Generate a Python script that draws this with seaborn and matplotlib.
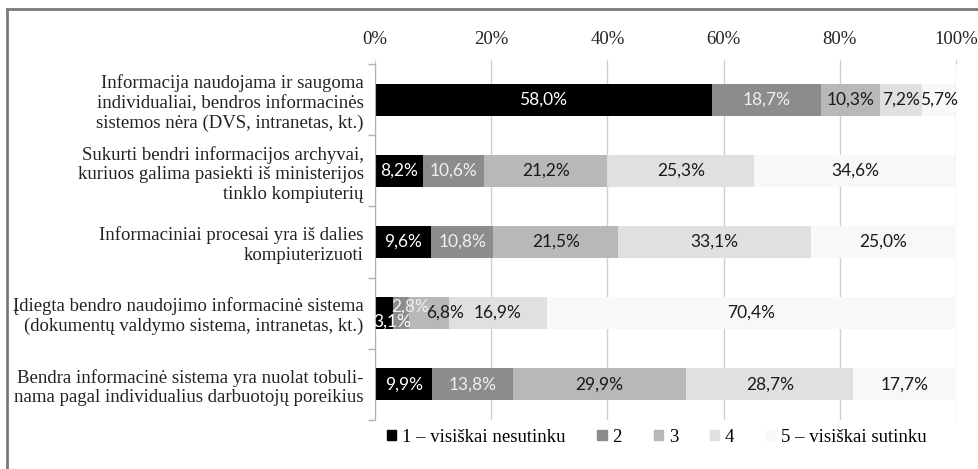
import matplotlib
matplotlib.use("Agg")
import matplotlib.pyplot as plt
from matplotlib.lines import Line2D
from matplotlib.ticker import FixedLocator
import numpy as np
import pandas as pd
import seaborn as sns

categories = [
    "Informacija naudojama ir saugoma\nindividualiai, bendros informacinės\nsistemos nėra (DVS, intranetas, kt.)",
    "Sukurti bendri informacijos archyvai,\nkuriuos galima pasiekti iš ministerijos\ntinklo kompiuterių",
    "Informaciniai procesai yra iš dalies\nkompiuterizuoti",
    "Įdiegta bendro naudojimo informacinė sistema\n(dokumentų valdymo sistema, intranetas, kt.)",
    "Bendra informacinė sistema yra nuolat tobuli-\nnama pagal individualius darbuotojų poreikius",
]
levels = ["1 – visiškai nesutinku", "2", "3", "4", "5 – visiškai sutinku"]
score_1 = [58.0, 8.2, 9.6, 3.1, 9.9]
score_2 = [18.7, 10.6, 10.8, 2.8, 13.8]
score_3 = [10.3, 21.2, 21.5, 6.8, 29.9]
score_4 = [7.2, 25.3, 33.1, 16.9, 28.7]
score_5 = [5.7, 34.6, 25.0, 70.4, 17.7]
colors = ["#000000", "#8c8c8c", "#b8b8b8", "#e0e0e0", "#f8f8f8"]
text_colors = ["white", "#f0f0f0", "#1a1a1a", "#1a1a1a", "#1a1a1a"]
x_ticks = [0, 20, 40, 60, 80, 100]

serif = "Liberation Serif"
label_font = "Lato"

df = pd.DataFrame({"category": categories, levels[0]: score_1, levels[1]: score_2,
                   levels[2]: score_3, levels[3]: score_4, levels[4]: score_5})
cum = df[levels].cumsum(axis=1)

fig = plt.figure(figsize=(9.79, 4.69), dpi=100)
ax = fig.add_axes([0.383, 0.105, 0.5935, 0.758])

# stacked bars: draw the running totals from the longest down
for i in range(len(levels) - 1, -1, -1):
    sns.barplot(x=cum[levels[i]], y=df["category"], color=colors[i], width=0.45,
                orient="h", ax=ax, zorder=2, linewidth=0, saturation=1)

# segment labels
for r in range(len(categories)):
    left = 0.0
    for i, lev in enumerate(levels):
        v = df.loc[r, lev]
        cx, cy = left + v / 2, r
        if r == 3 and i == 0:
            cx, cy = cx + 1.5, cy + 0.12
        elif r == 3 and i == 1:
            cx, cy = cx + 1.5, cy - 0.09
        elif r == 3 and i == 2:
            cx = cx + 2.8
        ax.text(cx, cy, f"{v:.1f}%".replace(".", ","), ha="center", va="center",
                color=text_colors[i], fontsize=12.5, family=label_font, zorder=3)
        left += v

ax.set_xlim(0, 100)
ax.set_ylim(len(categories) - 0.5, -0.5)
ax.xaxis.set_major_locator(FixedLocator(x_ticks))
ax.set_xticklabels([f"{t}%" for t in x_ticks], family=serif, fontsize=13.5, color="#222222")
ax.xaxis.tick_top()
ax.tick_params(axis="x", top=True, bottom=False, length=3, color="#c8c8c8", pad=9)
ax.grid(axis="x", color="#cfcfcf", linewidth=1, zorder=0)
ax.set_axisbelow(True)
ax.set_xlabel("")
ax.set_ylabel("")

ax.set_yticks(range(len(categories)))
ax.set_yticklabels(categories, family=serif, fontsize=13.5, color="#222222",
                   linespacing=1.2, ha="right")
ax.yaxis.set_minor_locator(FixedLocator(np.arange(-0.5, len(categories), 1)))
ax.tick_params(axis="y", which="major", length=0, pad=8)
ax.tick_params(axis="y", which="minor", length=5, color="#b0b0b0", width=1)

for side in ["top", "right", "bottom"]:
    ax.spines[side].set_visible(False)
ax.spines["left"].set_color("#b0b0b0")

handles = [plt.Rectangle((0, 0), 1, 1, color=c) for c in colors]
fig.legend(handles, levels, loc="center", bbox_to_anchor=(0.671, 0.068), ncol=5,
           frameon=False, prop={"family": serif, "size": 13.5}, handlelength=0.5,
           handleheight=0.5, handletextpad=0.3, columnspacing=1.7)

# outer frame (left and top edges only visible)
fig.add_artist(Line2D([7 / 979, 7 / 979], [0, 1 - 9 / 469], color="#7a7a7a", linewidth=2))
fig.add_artist(Line2D([7 / 979, 1], [1 - 9 / 469, 1 - 9 / 469], color="#7a7a7a", linewidth=2))

fig.savefig("out.png", dpi=100)
